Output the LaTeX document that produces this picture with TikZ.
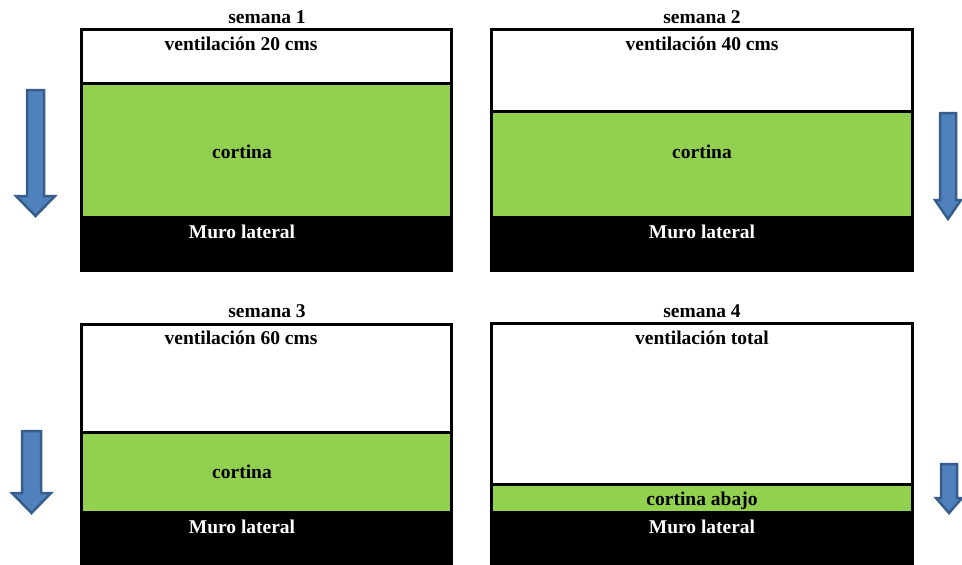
\documentclass[tikz,border=0pt]{standalone}
\usepackage{fontspec}
\setmainfont{Liberation Serif}
\definecolor{leaf}{HTML}{92D050}
\definecolor{arrowfill}{HTML}{4F81BD}
\definecolor{arrowedge}{HTML}{385D8A}
\tikzset{
  lbl/.style={font=\fontsize{19.5}{22}\selectfont\bfseries, anchor=base, inner sep=0pt},
  whitelbl/.style={lbl, text=white},
  frameline/.style={line width=3pt, draw=black},
  blockarrow/.style={fill=arrowfill, draw=arrowedge, line width=2.5pt, line join=miter},
}
% #1 x-left, #2 x-right, #3 top, #4 divider, #5 green bottom, #6 bottom
\newcommand\drawpanel[6]{%
  \fill[leaf] (#1,#4) rectangle (#2,#5);
  \fill[black] (#1,#5) rectangle (#2,#6);
  \draw[frameline] (#1,#6) -- (#1,#3) -- (#2,#3) -- (#2,#6);
  \draw[frameline] (#1,#4) -- (#2,#4);
}
% #1 centre x, #2 top, #3 shaft half width, #4 head half width, #5 head base, #6 tip
\newcommand\drawdownarrow[6]{%
  \draw[blockarrow] ({#1-#3},#2) -- ({#1+#3},#2) -- ({#1+#3},#5) -- ({#1+#4},#5)
    -- (#1,#6) -- ({#1-#4},#5) -- ({#1-#3},#5) -- cycle;
}
\begin{document}
\begin{tikzpicture}[x=1pt,y=-1pt]
\useasboundingbox (0,0) rectangle (962,565);

% panels
\drawpanel{81}{451}{29.5}{83}{216}{272}
\drawpanel{491}{912}{29.5}{111}{216}{272}
\drawpanel{81}{451}{324}{432}{511}{565}
\drawpanel{491}{912}{323}{484}{511}{565}

% panel 1
\node[lbl] (t1) at (267,23) {semana 1};
\node[lbl] (v1) at (241,50) {ventilación 20 cms};
\node[lbl] (c1) at (242,158) {cortina};
\node[whitelbl] (m1) at (242,238) {Muro lateral};

% panel 2
\node[lbl] (t2) at (702,23) {semana 2};
\node[lbl] (v2) at (702,50) {ventilación 40 cms};
\node[lbl] (c2) at (702,158) {cortina};
\node[whitelbl] (m2) at (702,238) {Muro lateral};

% panel 3
\node[lbl] (t3) at (267,317) {semana 3};
\node[lbl] (v3) at (241,344) {ventilación 60 cms};
\node[lbl] (c3) at (242,478) {cortina};
\node[whitelbl] (m3) at (242,533) {Muro lateral};

% panel 4
\node[lbl] (t4) at (702,317) {semana 4};
\node[lbl] (v4) at (702,344) {ventilación total};
\node[lbl] (c4) at (702,505) {cortina abajo};
\node[whitelbl] (m4) at (702,533) {Muro lateral};

% arrows
\drawdownarrow{35.5}{90}{8.5}{19.5}{196}{216}
\drawdownarrow{948}{113}{8}{13}{200}{219}
\drawdownarrow{31.5}{431}{9.5}{19.5}{493}{513}
\drawdownarrow{949}{464}{8}{13}{498}{513}
\end{tikzpicture}
\end{document}
